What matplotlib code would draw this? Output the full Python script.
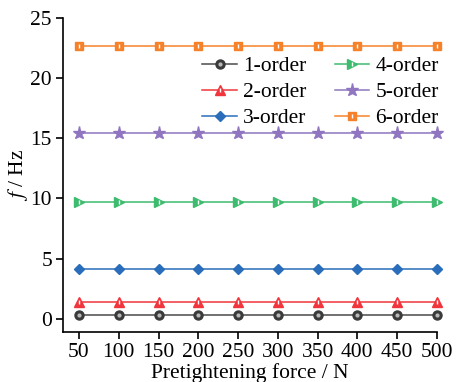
import numpy as np
import matplotlib
matplotlib.use("Agg")
import matplotlib.pyplot as plt
from matplotlib.legend_handler import HandlerTuple

# data
force = [50, 100, 150, 200, 250, 300, 350, 400, 450, 500]
order1 = [0.35] * 10
order2 = [1.4] * 10
order3 = [4.1] * 10
order4 = [9.7] * 10
order5 = [15.4] * 10
order6 = [22.7] * 10
labels = ["1-order", "2-order", "3-order", "4-order", "5-order", "6-order"]

plt.rcParams["font.family"] = "Liberation Serif"
plt.rcParams["mathtext.fontset"] = "stix"
fs = 15.5

fig = plt.figure(figsize=(4.57, 3.82), dpi=100)
ax = fig.add_axes([0.138, 0.131, 0.818, 0.822])

styles = [
    (order1, "#4a4a4a", "o", 6.5),
    (order2, "#f0353c", "^", 6.5),
    (order3, "#2a6ebb", "D", 5.5),
    (order4, "#3dbb6e", ">", 6.5),
    (order5, "#9075c0", "*", 9.5),
    (order6, "#f5822a", "s", 6),
]
inner_marks = [True, True, False, True, False, True]

handles = []
for (vals, col, mk, ms), lab, inner in zip(styles, labels, inner_marks):
    if mk == "o":
        (ln,) = ax.plot(force, vals, color=col, lw=1.1, marker=mk, ms=ms,
                        mfc="#3a3a3a", mec="#3a3a3a", clip_on=False, zorder=3)
        (hi,) = ax.plot(force, vals, ls="none", marker="o", ms=3,
                        mfc="#b8b8b8", mec="none", clip_on=False, zorder=4)
        handles.append((ln, hi))
        continue
    (ln,) = ax.plot(force, vals, color=col, lw=1.1, marker=mk, ms=ms,
                    mfc=col, mec=col, clip_on=False, zorder=3)
    if inner:
        (hi,) = ax.plot(force, vals, ls="none", marker="|", ms=3, mew=1.0,
                        mec="white", clip_on=False, zorder=4)
        handles.append((ln, hi))
    else:
        handles.append(ln)

ax.set_xlim(30, 500)
ax.set_ylim(-1.1, 25)
ax.set_xticks(force)
ax.set_yticks([0, 5, 10, 15, 20, 25])
ax.spines["top"].set_visible(False)
ax.spines["right"].set_visible(False)
ax.tick_params(direction="out", length=5, width=1.2, labelsize=fs, pad=3)
for s in ["left", "bottom"]:
    ax.spines[s].set_linewidth(1.2)

ax.set_xlabel("Pretightening force / N", fontsize=fs, labelpad=1)
ax.set_ylabel("$f$ / Hz", fontsize=fs, labelpad=0)

ax.legend(handles, labels,
          ncol=2, loc="upper right", bbox_to_anchor=(1.057, 0.94),
          frameon=False, fontsize=fs, handlelength=1.6,
          handletextpad=0.3, columnspacing=1.3, labelspacing=0.28,
          handler_map={tuple: HandlerTuple(ndivide=1)})

fig.savefig("out.png", dpi=100)
